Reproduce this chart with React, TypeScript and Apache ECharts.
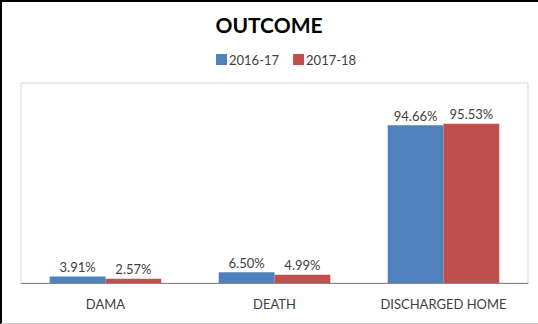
import React, { useEffect, useRef } from "react";
import * as echarts from "echarts";

const categories = ["DAMA", "DEATH", "DISCHARGED HOME"];
const seriesNames = ["2016-17", "2017-18"];
const values2016 = [3.91, 6.5, 94.66];
const values2017 = [2.57, 4.99, 95.53];
const colors = ["#4f81bd", "#c0504d"];

const FONT = "Lato, 'Open Sans', sans-serif";

export default function App() {
  const ref = useRef<HTMLDivElement>(null);
  useEffect(() => {
    if (!ref.current) return;
    const chart = echarts.init(ref.current, undefined, { renderer: "svg" });
    const mk = (name: string, data: number[], color: string) => ({
      name,
      type: "bar",
      data,
      barGap: "0%",
      barCategoryGap: "34%",
      itemStyle: { color },
      label: {
        show: true,
        position: "top",
        distance: 3,
        formatter: (p: any) => p.value.toFixed(2) + "%",
        color: "#404040",
        fontSize: 13,
        fontFamily: FONT,
      },
    });
    chart.setOption({
      animation: false,
      backgroundColor: "transparent",
      title: {
        text: "OUTCOME",
        left: "center",
        top: 9,
        textStyle: { fontSize: 21, fontWeight: "bold", color: "#000", fontFamily: FONT },
      },
      legend: {
        data: seriesNames,
        top: 48,
        left: 211,
        itemWidth: 11,
        itemHeight: 11,
        itemGap: 14,
        icon: "rect",
        textStyle: { fontSize: 13, color: "#404040", fontFamily: FONT, padding: [0, 0, 0, -3] },
      },
      grid: {
        left: 21,
        right: 10,
        top: 83,
        bottom: 41,
        show: true,
        borderColor: "#d9d9d9",
        borderWidth: 1,
        containLabel: false,
      },
      xAxis: {
        type: "category",
        data: categories,
        axisLine: { lineStyle: { color: "#868686", width: 1 } },
        axisTick: { show: false },
        axisLabel: { color: "#404040", fontSize: 13, fontFamily: FONT, margin: 14 },
      },
      yAxis: {
        type: "value",
        min: 0,
        max: 120,
        show: false,
        splitLine: { show: false },
      },
      series: [mk(seriesNames[0], values2016, colors[0]), mk(seriesNames[1], values2017, colors[1])],
    });
    return () => chart.dispose();
  }, []);
  return (
    <div
      style={{
        position: "fixed",
        left: 0,
        top: 0,
        width: 538,
        height: 324,
        background: "#fff",
      }}
    >
      <div ref={ref} style={{ position: "absolute", left: 0, top: 0, width: 538, height: 324 }} />
      <div
        style={{
          position: "absolute",
          left: 0,
          top: 0,
          width: 538,
          height: 324,
          boxSizing: "border-box",
          borderLeft: "2px solid #000",
          borderTop: "2px solid #000",
          borderBottom: "1px solid #d0d0d0",
          pointerEvents: "none",
        }}
      />
    </div>
  );
}
